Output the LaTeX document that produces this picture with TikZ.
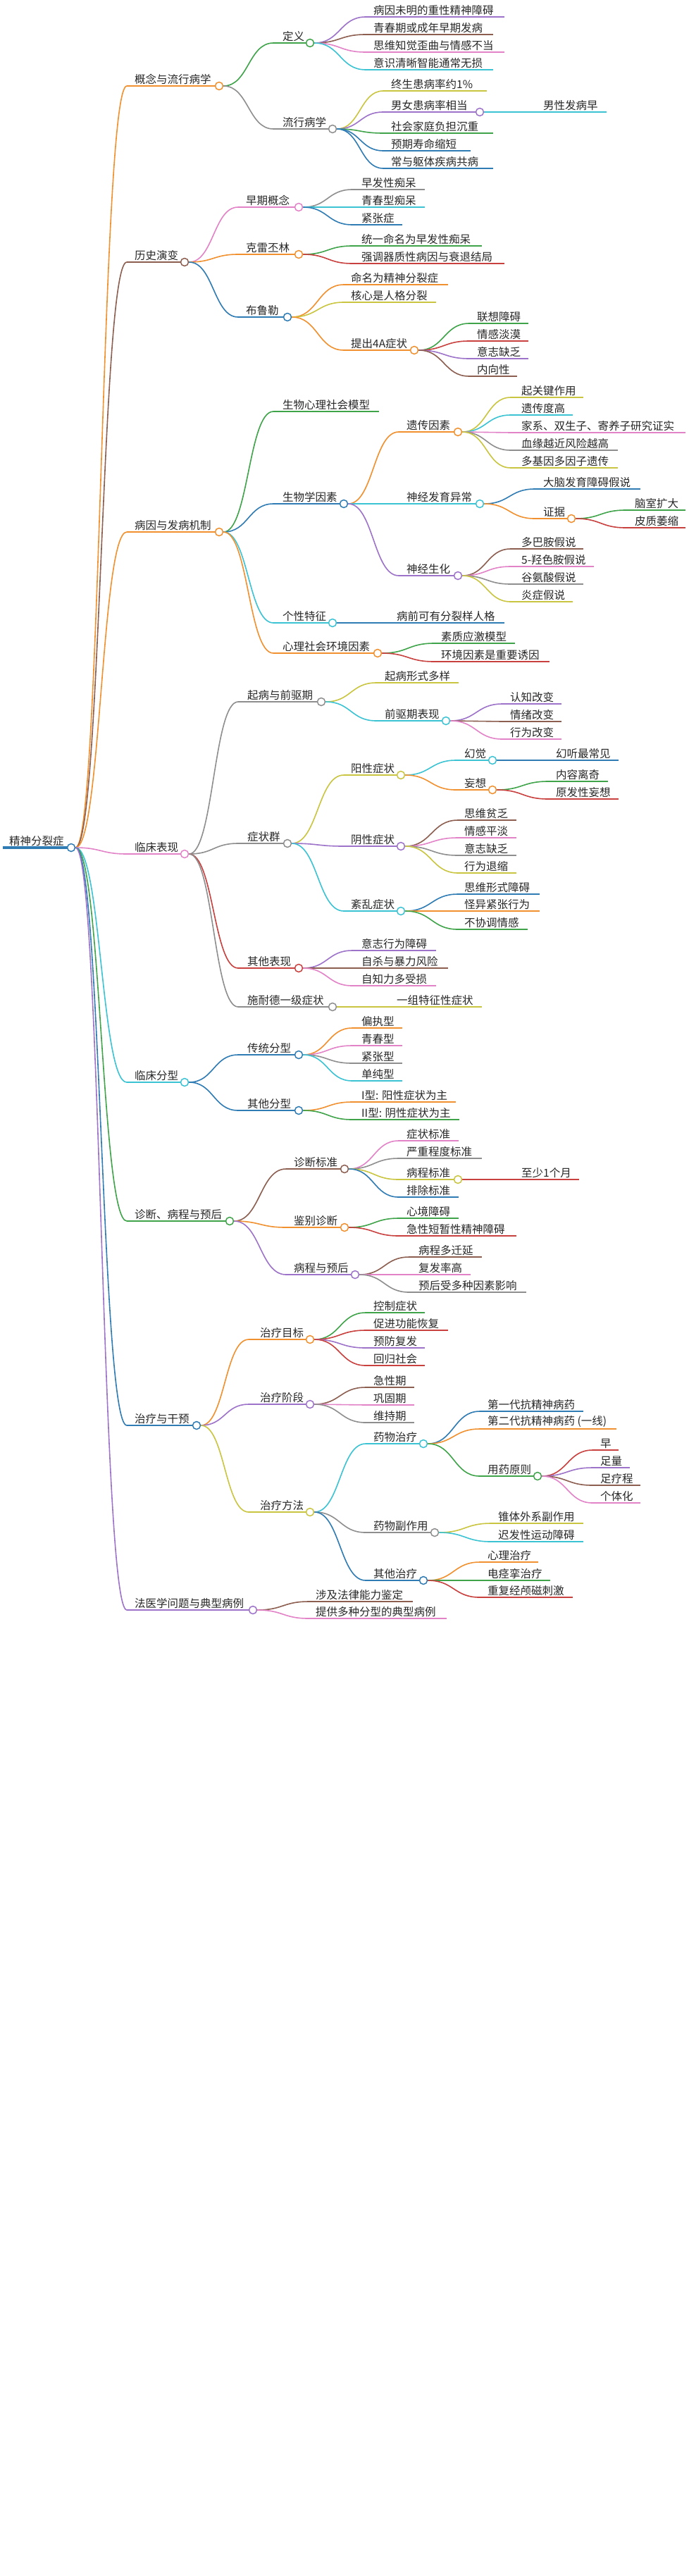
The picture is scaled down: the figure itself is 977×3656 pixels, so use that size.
\documentclass[tikz,border=0pt]{standalone}
\usepackage{fontspec}
\usetikzlibrary{calc}
\newfontfamily\cjk{Noto Sans CJK SC}
\pgfdeclarelayer{bg}\pgfsetlayers{bg,main}
\definecolor{corange}{HTML}{F0902E}
\definecolor{cgreen}{HTML}{3FA34A}
\definecolor{cgray}{HTML}{8E8E8E}
\definecolor{cpurple}{HTML}{9D72C9}
\definecolor{cbrown}{HTML}{8C5E50}
\definecolor{cpink}{HTML}{E283C8}
\definecolor{ccyan}{HTML}{3CC3D3}
\definecolor{colive}{HTML}{C9C540}
\definecolor{cblue}{HTML}{2F7BB3}
\definecolor{cred}{HTML}{C8413F}
\tikzset{
 lbl/.style={font=\cjk\fontsize{15.5}{16}\selectfont, inner sep=1pt, anchor=south west, text=black!85},
 ul/.style={line width=2.4pt},
 cn/.style={line width=1.6pt},
 dot/.style={circle, fill=white, line width=1.5pt, minimum size=11pt, inner sep=0pt}
}
\newcommand\mm[9]{%
 \coordinate (#1-s) at (#3,#5);
 \coordinate (#1-e) at (#6,#5);
 \node[lbl] (#1) at (#4,#5-1) {#8};
 \coordinate (#1-m) at ($(#2-c.east)!0.5!(#1-s)$);
 \begin{pgfonlayer}{bg}
 \draw[ul,#7] (#1-s) -- (#1-e);
 \draw[cn,#7] (#2-c.east) .. controls (#1-m |- #2-c.east) and (#1-m |- #1-s) .. (#1-s);
 \end{pgfonlayer}
 \ifnum#9=1 \node[dot,draw=#7] (#1-c) at (#6,#5) {};\fi
}
\begin{document}
\begin{tikzpicture}[x=1pt,y=-1pt]
\useasboundingbox (0,0) rectangle (977,3656);
\coordinate (root-s) at (4,1203);
\node[lbl] (root) at (12,1202) {精神分裂症};
\draw[line width=4pt,cblue] (root-s) -- (101,1203);
\node[dot,draw=cblue] (root-c) at (101,1203) {};
% level 1
\mm{a}{root}{180}{190}{122}{311}{corange}{概念与流行病学}{1}
\mm{b}{root}{180}{190}{372}{262}{cbrown}{历史演变}{1}
\mm{c}{root}{180}{190}{755}{311}{corange}{病因与发病机制}{1}
\mm{d}{root}{180}{190}{1212}{262}{cpink}{临床表现}{1}
\mm{e}{root}{180}{190}{1536}{262}{ccyan}{临床分型}{1}
\mm{f}{root}{180}{190}{1733}{326}{cgreen}{诊断、病程与预后}{1}
\mm{g}{root}{180}{190}{2023}{279}{cblue}{治疗与干预}{1}
\mm{h}{root}{180}{190}{2285}{359}{cpurple}{法医学问题与典型病例}{1}
% a
\mm{a1}{a}{388}{400}{61}{440}{cgreen}{定义}{1}
\mm{a11}{a1}{519}{529}{24}{716}{cpurple}{病因未明的重性精神障碍}{0}
\mm{a12}{a1}{519}{529}{49}{700}{cbrown}{青春期或成年早期发病}{0}
\mm{a13}{a1}{519}{529}{74}{716}{cpink}{思维知觉歪曲与情感不当}{0}
\mm{a14}{a1}{519}{529}{99}{700}{ccyan}{意识清晰智能通常无损}{0}
\mm{a2}{a}{388}{400}{183}{472}{cgray}{流行病学}{1}
\mm{a21}{a2}{544}{554}{129}{691}{colive}{终生患病率约1\%}{0}
\mm{a22}{a2}{544}{554}{159}{681}{cpurple}{男女患病率相当}{1}
\mm{a221}{a22}{681}{770}{159}{861}{ccyan}{男性发病早}{0}
\mm{a23}{a2}{544}{554}{189}{700}{cgreen}{社会家庭负担沉重}{0}
\mm{a24}{a2}{544}{554}{214}{668}{cblue}{预期寿命缩短}{0}
\mm{a25}{a2}{544}{554}{239}{700}{cblue}{常与躯体疾病共病}{0}
% b
\mm{b1}{b}{338}{348}{294}{424}{cpink}{早期概念}{1}
\mm{b11}{b1}{500}{512}{269}{603}{cgray}{早发性痴呆}{0}
\mm{b12}{b1}{500}{512}{294}{603}{ccyan}{青春型痴呆}{0}
\mm{b13}{b1}{500}{512}{319}{571}{cblue}{紧张症}{0}
\mm{b2}{b}{338}{348}{361}{424}{corange}{克雷丕林}{1}
\mm{b21}{b2}{500}{512}{349}{684}{cgreen}{统一命名为早发性痴呆}{0}
\mm{b22}{b2}{500}{512}{374}{716}{cred}{强调器质性病因与衰退结局}{0}
\mm{b3}{b}{338}{348}{450}{408}{cblue}{布鲁勒}{1}
\mm{b31}{b3}{488}{497}{404}{636}{corange}{命名为精神分裂症}{0}
\mm{b32}{b3}{488}{497}{429}{619}{colive}{核心是人格分裂}{0}
\mm{b33}{b3}{488}{497}{497}{588}{corange}{提出4A症状}{1}
\mm{b331}{b33}{666}{676}{459}{750}{cgreen}{联想障碍}{0}
\mm{b332}{b33}{666}{676}{484}{750}{cred}{情感淡漠}{0}
\mm{b333}{b33}{666}{676}{509}{750}{cpurple}{意志缺乏}{0}
\mm{b334}{b33}{666}{676}{534}{734}{cbrown}{内向性}{0}
% c
\mm{c1}{c}{388}{400}{584}{538}{cgreen}{生物心理社会模型}{0}
\mm{c2}{c}{388}{400}{715}{488}{cblue}{生物学因素}{1}
\mm{c21}{c2}{566}{576}{613}{650}{corange}{遗传因素}{1}
\mm{c211}{c21}{725}{739}{564}{828}{colive}{起关键作用}{0}
\mm{c212}{c21}{725}{739}{589}{813}{ccyan}{遗传度高}{0}
\mm{c213}{c21}{725}{739}{614}{973}{cpink}{家系、双生子、寄养子研究证实}{0}
\mm{c214}{c21}{725}{739}{639}{877}{cgray}{血缘越近风险越高}{0}
\mm{c215}{c21}{725}{739}{664}{877}{colive}{多基因多因子遗传}{0}
\mm{c22}{c2}{566}{576}{715}{681}{ccyan}{神经发育异常}{1}
\mm{c221}{c22}{759}{770}{694}{909}{cblue}{大脑发育障碍假说}{0}
\mm{c222}{c22}{759}{770}{736}{811}{corange}{证据}{1}
\mm{c2221}{c222}{888}{900}{724}{973}{cgreen}{脑室扩大}{0}
\mm{c2222}{c222}{888}{900}{749}{973}{cred}{皮质萎缩}{0}
\mm{c23}{c2}{566}{576}{817}{650}{cpurple}{神经生化}{1}
\mm{c231}{c23}{725}{739}{779}{828}{cbrown}{多巴胺假说}{0}
\mm{c232}{c23}{725}{739}{804}{843}{cpink}{5-羟色胺假说}{0}
\mm{c233}{c23}{725}{739}{829}{828}{cgray}{谷氨酸假说}{0}
\mm{c234}{c23}{725}{739}{854}{813}{colive}{炎症假说}{0}
\mm{c3}{c}{388}{400}{884}{472}{ccyan}{个性特征}{1}
\mm{c31}{c3}{472}{562}{884}{716}{cblue}{病前可有分裂样人格}{0}
\mm{c4}{c}{388}{400}{927}{536}{corange}{心理社会环境因素}{1}
\mm{c41}{c4}{616}{625}{913}{731}{cgreen}{素质应激模型}{0}
\mm{c42}{c4}{616}{625}{939}{780}{cred}{环境因素是重要诱因}{0}
% d
\mm{d1}{d}{338}{350}{996}{456}{cgray}{起病与前驱期}{1}
\mm{d11}{d1}{534}{545}{969}{651}{colive}{起病形式多样}{0}
\mm{d12}{d1}{534}{545}{1023}{633}{ccyan}{前驱期表现}{1}
\mm{d121}{d12}{713}{723}{999}{797}{cpurple}{认知改变}{0}
\mm{d122}{d12}{713}{723}{1024}{797}{cbrown}{情绪改变}{0}
\mm{d123}{d12}{713}{723}{1049}{797}{cpink}{行为改变}{0}
\mm{d2}{d}{338}{350}{1197}{408}{cgray}{症状群}{1}
\mm{d21}{d2}{488}{497}{1100}{569}{colive}{阳性症状}{1}
\mm{d211}{d21}{647}{658}{1079}{699}{ccyan}{幻觉}{1}
\mm{d2111}{d211}{699}{788}{1079}{878}{cblue}{幻听最常见}{0}
\mm{d212}{d21}{647}{658}{1121}{699}{corange}{妄想}{1}
\mm{d2121}{d212}{778}{788}{1109}{863}{cgreen}{内容离奇}{0}
\mm{d2122}{d212}{778}{788}{1134}{878}{cred}{原发性妄想}{0}
\mm{d22}{d2}{488}{497}{1201}{569}{cpurple}{阴性症状}{1}
\mm{d221}{d22}{650}{658}{1164}{733}{cbrown}{思维贫乏}{0}
\mm{d222}{d22}{650}{658}{1189}{733}{cpink}{情感平淡}{0}
\mm{d223}{d22}{650}{658}{1214}{733}{cgray}{意志缺乏}{0}
\mm{d224}{d22}{650}{658}{1239}{733}{colive}{行为退缩}{0}
\mm{d23}{d2}{488}{497}{1293}{569}{ccyan}{紊乱症状}{1}
\mm{d231}{d23}{650}{658}{1269}{766}{cblue}{思维形式障碍}{0}
\mm{d232}{d23}{650}{658}{1293}{766}{corange}{怪异紧张行为}{0}
\mm{d233}{d23}{650}{658}{1319}{749}{cgreen}{不协调情感}{0}
\mm{d3}{d}{338}{350}{1374}{424}{cred}{其他表现}{1}
\mm{d31}{d3}{500}{512}{1349}{619}{cpurple}{意志行为障碍}{0}
\mm{d32}{d3}{500}{512}{1374}{636}{cbrown}{自杀与暴力风险}{0}
\mm{d33}{d3}{500}{512}{1399}{619}{cpink}{自知力多受损}{0}
\mm{d4}{d}{338}{350}{1429}{472}{cgray}{施耐德一级症状}{1}
\mm{d41}{d4}{472}{562}{1429}{684}{colive}{一组特征性症状}{0}
% e
\mm{e1}{e}{338}{350}{1497}{424}{cblue}{传统分型}{1}
\mm{e11}{e1}{500}{512}{1459}{571}{corange}{偏执型}{0}
\mm{e12}{e1}{500}{512}{1484}{571}{cpink}{青春型}{0}
\mm{e13}{e1}{500}{512}{1509}{571}{cgray}{紧张型}{0}
\mm{e14}{e1}{500}{512}{1534}{571}{ccyan}{单纯型}{0}
\mm{e2}{e}{338}{350}{1576}{424}{cblue}{其他分型}{1}
\mm{e21}{e2}{500}{512}{1564}{647}{corange}{I型: 阳性症状为主}{0}
\mm{e22}{e2}{500}{512}{1589}{652}{cgreen}{II型: 阴性症状为主}{0}
% f
\mm{f1}{f}{406}{416}{1659}{489}{cbrown}{诊断标准}{1}
\mm{f11}{f1}{566}{576}{1619}{651}{cpink}{症状标准}{0}
\mm{f12}{f1}{566}{576}{1644}{684}{cgray}{严重程度标准}{0}
\mm{f13}{f1}{566}{576}{1674}{650}{colive}{病程标准}{1}
\mm{f131}{f13}{650}{739}{1674}{822}{cred}{至少1个月}{0}
\mm{f14}{f1}{566}{576}{1699}{651}{cblue}{排除标准}{0}
\mm{f2}{f}{406}{416}{1742}{489}{corange}{鉴别诊断}{1}
\mm{f21}{f2}{566}{576}{1729}{651}{cgreen}{心境障碍}{0}
\mm{f22}{f2}{566}{576}{1754}{733}{cred}{急性短暂性精神障碍}{0}
\mm{f3}{f}{406}{416}{1809}{504}{cpurple}{病程与预后}{1}
\mm{f31}{f3}{581}{593}{1784}{684}{cbrown}{病程多迁延}{0}
\mm{f32}{f3}{581}{593}{1809}{668}{cpink}{复发率高}{0}
\mm{f33}{f3}{581}{593}{1834}{747}{cgray}{预后受多种因素影响}{0}
% g
\mm{g1}{g}{353}{368}{1901}{440}{corange}{治疗目标}{1}
\mm{g11}{g1}{519}{529}{1863}{603}{cgreen}{控制症状}{0}
\mm{g12}{g1}{519}{529}{1888}{636}{cred}{促进功能恢复}{0}
\mm{g13}{g1}{519}{529}{1913}{603}{cpurple}{预防复发}{0}
\mm{g14}{g1}{519}{529}{1938}{603}{cred}{回归社会}{0}
\mm{g2}{g}{353}{368}{1993}{440}{cpurple}{治疗阶段}{1}
\mm{g21}{g2}{519}{529}{1969}{588}{cbrown}{急性期}{0}
\mm{g22}{g2}{519}{529}{1994}{588}{cpink}{巩固期}{0}
\mm{g23}{g2}{519}{529}{2019}{588}{cgray}{维持期}{0}
\mm{g3}{g}{353}{368}{2146}{440}{colive}{治疗方法}{1}
\mm{g31}{g3}{519}{529}{2049}{601}{ccyan}{药物治疗}{1}
\mm{g311}{g31}{681}{691}{2003}{828}{cblue}{第一代抗精神病药}{0}
\mm{g312}{g31}{681}{691}{2028}{875}{corange}{第二代抗精神病药 (一线)}{0}
\mm{g313}{g31}{681}{691}{2095}{763}{cgreen}{用药原则}{1}
\mm{g3131}{g313}{841}{851}{2058}{878}{cred}{早}{0}
\mm{g3132}{g313}{841}{851}{2083}{894}{cpurple}{足量}{0}
\mm{g3133}{g313}{841}{851}{2108}{909}{cbrown}{足疗程}{0}
\mm{g3134}{g313}{841}{851}{2133}{909}{cpink}{个体化}{0}
\mm{g32}{g3}{519}{529}{2175}{617}{cgray}{药物副作用}{1}
\mm{g321}{g32}{697}{706}{2162}{828}{colive}{锥体外系副作用}{0}
\mm{g322}{g32}{697}{706}{2188}{828}{ccyan}{迟发性运动障碍}{0}
\mm{g33}{g3}{519}{529}{2243}{601}{cblue}{其他治疗}{1}
\mm{g331}{g33}{681}{691}{2217}{764}{corange}{心理治疗}{0}
\mm{g332}{g33}{681}{691}{2243}{781}{cgreen}{电痉挛治疗}{0}
\mm{g333}{g33}{681}{691}{2267}{813}{cred}{重复经颅磁刺激}{0}
% h
\mm{h1}{h}{438}{447}{2273}{586}{cbrown}{涉及法律能力鉴定}{0}
\mm{h2}{h}{438}{447}{2297}{634}{cpink}{提供多种分型的典型病例}{0}
\end{tikzpicture}
\end{document}
